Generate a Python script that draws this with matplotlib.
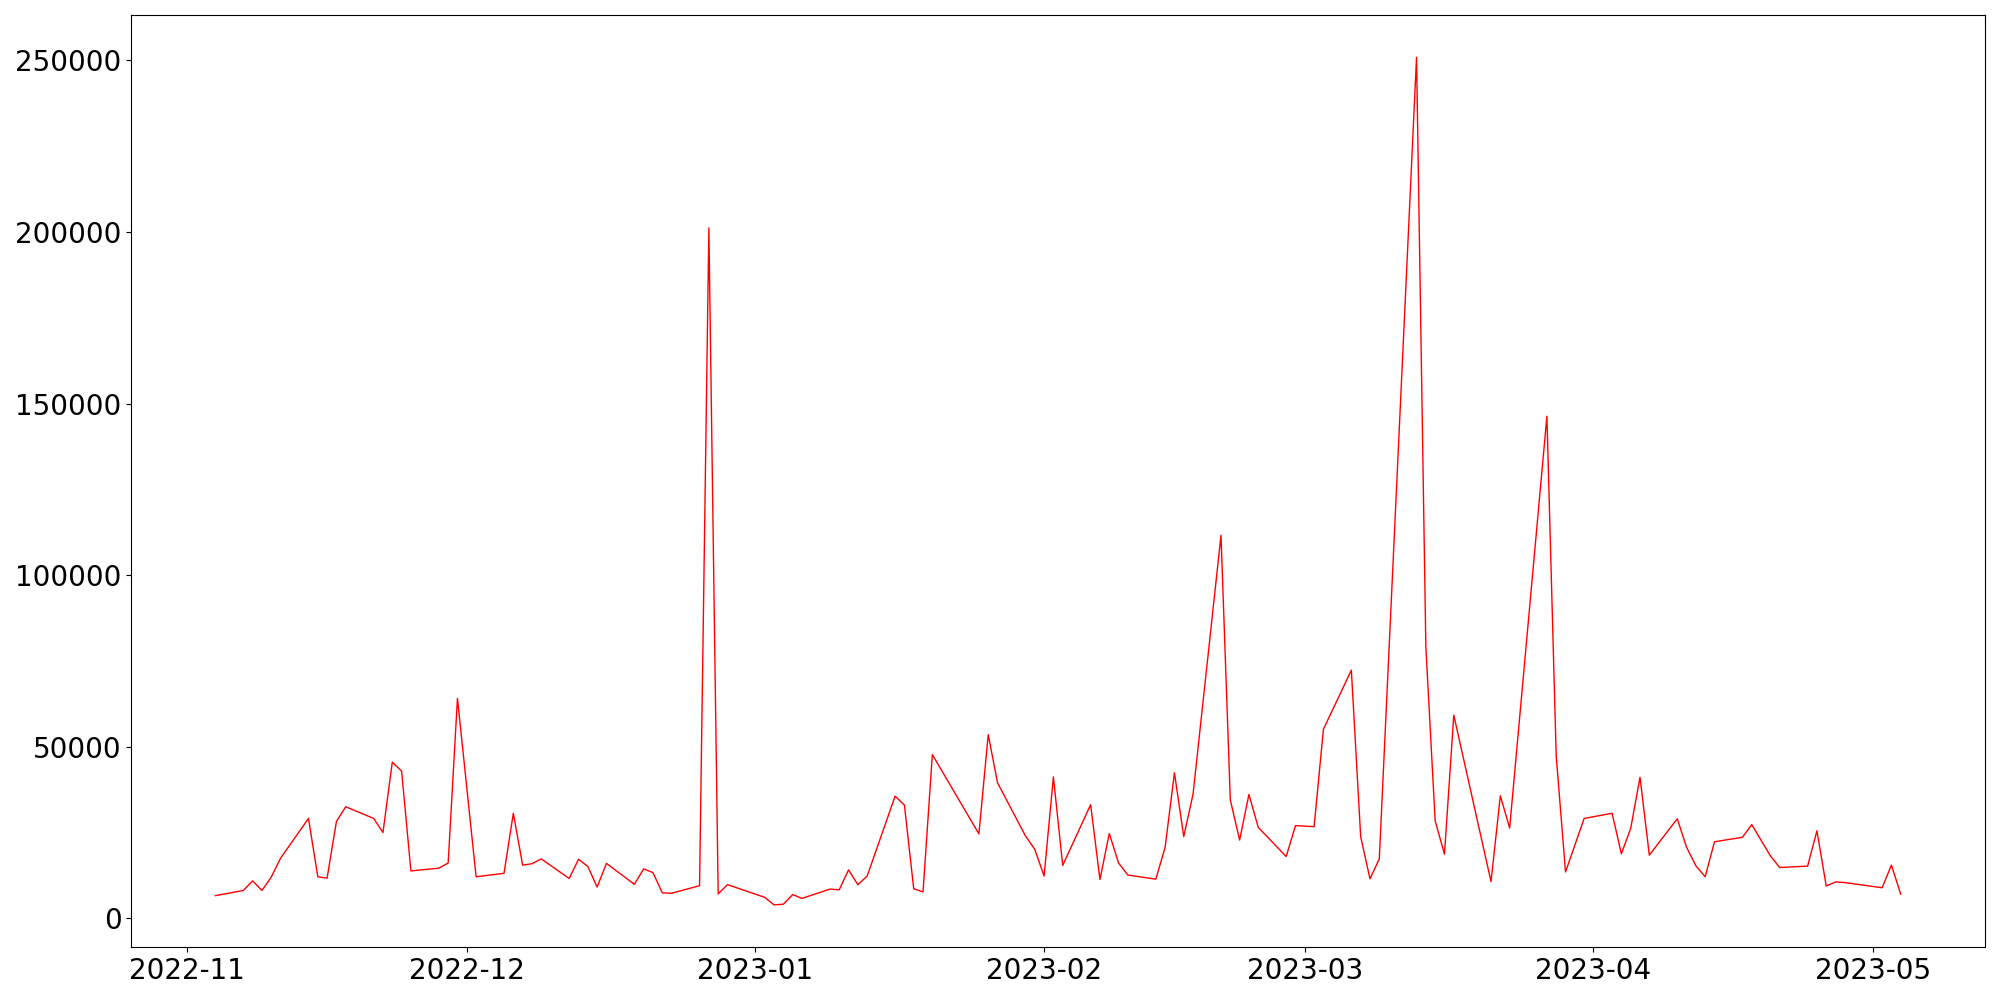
import matplotlib
matplotlib.use('Agg')
import matplotlib.pyplot as plt
import pandas as pd

# trading-day series, values in thousands
nov_days = ['2022-11-04', '2022-11-07', '2022-11-08', '2022-11-09', '2022-11-10', '2022-11-11',
            '2022-11-14', '2022-11-15', '2022-11-16', '2022-11-17', '2022-11-18',
            '2022-11-21', '2022-11-22', '2022-11-23', '2022-11-24', '2022-11-25',
            '2022-11-28', '2022-11-29', '2022-11-30']
nov_vals = [6.6, 8.1, 10.9, 8.1, 12.0, 17.5, 29.1, 12.1, 11.7, 28.2, 32.5,
            29.1, 25.0, 45.5, 42.9, 13.8, 14.6, 16.1, 64.1]

dec_days = ['2022-12-02', '2022-12-05', '2022-12-06', '2022-12-07', '2022-12-08', '2022-12-09',
            '2022-12-12', '2022-12-13', '2022-12-14', '2022-12-15', '2022-12-16',
            '2022-12-19', '2022-12-20', '2022-12-21', '2022-12-22', '2022-12-23',
            '2022-12-26', '2022-12-27', '2022-12-28', '2022-12-29']
dec_vals = [12.1, 13.1, 30.6, 15.5, 15.9, 17.3, 11.6, 17.2, 15.1, 9.1, 16.0,
            9.9, 14.4, 13.3, 7.4, 7.3, 9.5, 201.2, 7.1, 9.8]

jan_days = ['2023-01-02', '2023-01-03', '2023-01-04', '2023-01-05', '2023-01-06',
            '2023-01-09', '2023-01-10', '2023-01-11', '2023-01-12', '2023-01-13',
            '2023-01-16', '2023-01-17', '2023-01-18', '2023-01-19', '2023-01-20',
            '2023-01-25', '2023-01-26', '2023-01-27', '2023-01-30', '2023-01-31']
jan_vals = [6.1, 3.9, 4.1, 6.9, 5.8, 8.5, 8.3, 14.1, 9.8, 12.3,
            35.6, 33.0, 8.6, 7.7, 47.7, 24.6, 53.5, 39.5, 24.0, 20.1]

feb_days = ['2023-02-01', '2023-02-02', '2023-02-03', '2023-02-06', '2023-02-07', '2023-02-08',
            '2023-02-09', '2023-02-10', '2023-02-13', '2023-02-14', '2023-02-15', '2023-02-16',
            '2023-02-17', '2023-02-20', '2023-02-21', '2023-02-22', '2023-02-23', '2023-02-24',
            '2023-02-27', '2023-02-28']
feb_vals = [12.3, 41.2, 15.4, 33.1, 11.3, 24.7, 16.1, 12.6, 11.4, 20.7, 42.4, 23.8,
            36.2, 111.6, 34.5, 22.8, 36.1, 26.5, 18.0, 27.0]

mar_days = ['2023-03-02', '2023-03-03', '2023-03-06', '2023-03-07', '2023-03-08', '2023-03-09',
            '2023-03-13', '2023-03-14', '2023-03-15', '2023-03-16', '2023-03-17',
            '2023-03-21', '2023-03-22', '2023-03-23', '2023-03-27', '2023-03-28',
            '2023-03-29', '2023-03-31']
mar_vals = [26.7, 55.1, 72.3, 23.8, 11.5, 17.3, 250.9, 79.1, 28.4, 18.7, 59.2,
            10.7, 35.7, 26.3, 146.3, 47.3, 13.5, 29.1]

apr_days = ['2023-04-03', '2023-04-04', '2023-04-05', '2023-04-06', '2023-04-07',
            '2023-04-10', '2023-04-11', '2023-04-12', '2023-04-13', '2023-04-14',
            '2023-04-17', '2023-04-18', '2023-04-20', '2023-04-21',
            '2023-04-24', '2023-04-25', '2023-04-26', '2023-04-27', '2023-04-28']
apr_vals = [30.6, 18.8, 26.2, 41.1, 18.4, 29.0, 20.7, 15.3, 12.1, 22.3,
            23.6, 27.3, 18.2, 14.8, 15.2, 25.5, 9.4, 10.6, 10.4]

may_days = ['2023-05-02', '2023-05-03', '2023-05-04']
may_vals = [8.9, 15.5, 7.0]

dates = pd.to_datetime(nov_days + dec_days + jan_days + feb_days + mar_days + apr_days + may_days)
values = [v * 1000 for v in nov_vals + dec_vals + jan_vals + feb_vals + mar_vals + apr_vals + may_vals]

fig, ax = plt.subplots(figsize=(20, 10), dpi=100)
ax.plot(dates, values, color='red', linewidth=1)
ax.tick_params(axis='both', labelsize=20)

plt.tight_layout()
plt.savefig('out.png', dpi=100)
